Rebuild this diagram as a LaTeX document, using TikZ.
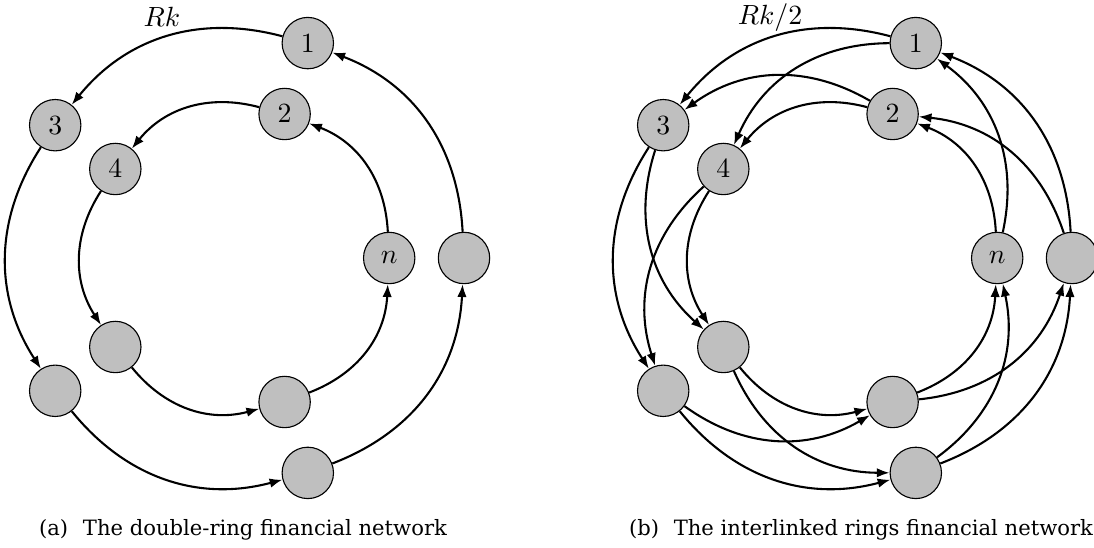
\documentclass[tikz,border=0pt]{standalone}
\usepackage{fontspec}
\newfontfamily\capfont{DejaVu Serif}
\usetikzlibrary{arrows.meta}
\tikzset{
  bank/.style={circle, draw=black, line width=0.4pt, fill=black!25, minimum size=18.5pt, inner sep=0pt, font=\normalsize},
  link/.style={line width=0.75pt, -{Latex[length=4.6pt,width=3.4pt]}, bend right=33},
  captext/.style={anchor=base, inner sep=0pt, font=\capfont\fontsize{7.6}{9.5}\selectfont},
  lab/.style={anchor=base, inner sep=0pt, font=\normalsize}
}
\begin{document}
\begin{tikzpicture}[x=0.36pt, y=-0.36pt]
\useasboundingbox (0,0) rectangle (1094,548);
% ---------- panel (a)
\node[bank] (ao1) at (307.8,43.1) {$1$};
\node[bank] (ao3) at (55.2,125.2) {$3$};
\node[bank] (ao5) at (55.2,390.8) {};
\node[bank] (ao7) at (307.8,472.9) {};
\node[bank] (ao9) at (464,258) {};
\node[bank] (ai2) at (284.6,114) {$2$};
\node[bank] (ai4) at (115.3,169) {$4$};
\node[bank] (ai6) at (115.3,347) {};
\node[bank] (ai8) at (284.6,402) {};
\node[bank] (ain) at (389.2,258) {$n$};
\draw[link] (ao1) to (ao3);
\draw[link] (ao3) to (ao5);
\draw[link] (ao5) to (ao7);
\draw[link] (ao7) to (ao9);
\draw[link] (ao9) to (ao1);
\draw[link] (ai2) to (ai4);
\draw[link] (ai4) to (ai6);
\draw[link] (ai6) to (ai8);
\draw[link] (ai8) to (ain);
\draw[link] (ain) to (ai2);
\node[lab] (rka) at (162,26.7) {$Rk$};
\node[captext] (capa) at (243,536) {(a)\hspace{0.7em}The double-ring financial network};
% ---------- panel (b)
\begin{scope}[xshift=608*0.36pt]
\node[bank] (bo1) at (307.8,43.1) {$1$};
\node[bank] (bo3) at (55.2,125.2) {$3$};
\node[bank] (bo5) at (55.2,390.8) {};
\node[bank] (bo7) at (307.8,472.9) {};
\node[bank] (bo9) at (464,258) {};
\node[bank] (bi2) at (284.6,114) {$2$};
\node[bank] (bi4) at (115.3,169) {$4$};
\node[bank] (bi6) at (115.3,347) {};
\node[bank] (bi8) at (284.6,402) {};
\node[bank] (bin) at (389.2,258) {$n$};
\end{scope}
\draw[link] (bo1) to (bo3);
\draw[link] (bo3) to (bo5);
\draw[link] (bo5) to (bo7);
\draw[link] (bo7) to (bo9);
\draw[link] (bo9) to (bo1);
\draw[link] (bi2) to (bi4);
\draw[link] (bi4) to (bi6);
\draw[link] (bi6) to (bi8);
\draw[link] (bi8) to (bin);
\draw[link] (bin) to (bi2);
\draw[link] (bo1) to (bi4);
\draw[link] (bi2) to (bo3);
\draw[link] (bo3) to (bi6);
\draw[link] (bi4) to (bo5);
\draw[link] (bo5) to (bi8);
\draw[link] (bi6) to (bo7);
\draw[link] (bo7) to (bin);
\draw[link] (bi8) to (bo9);
\draw[link] (bo9) to (bi2);
\draw[link] (bin) to (bo1);
\node[lab] (rkb) at (770,25) {$Rk/2$};
\node[captext] (capb) at (861,536) {(b)\hspace{0.7em}The interlinked rings financial network};
\end{tikzpicture}
\end{document}
